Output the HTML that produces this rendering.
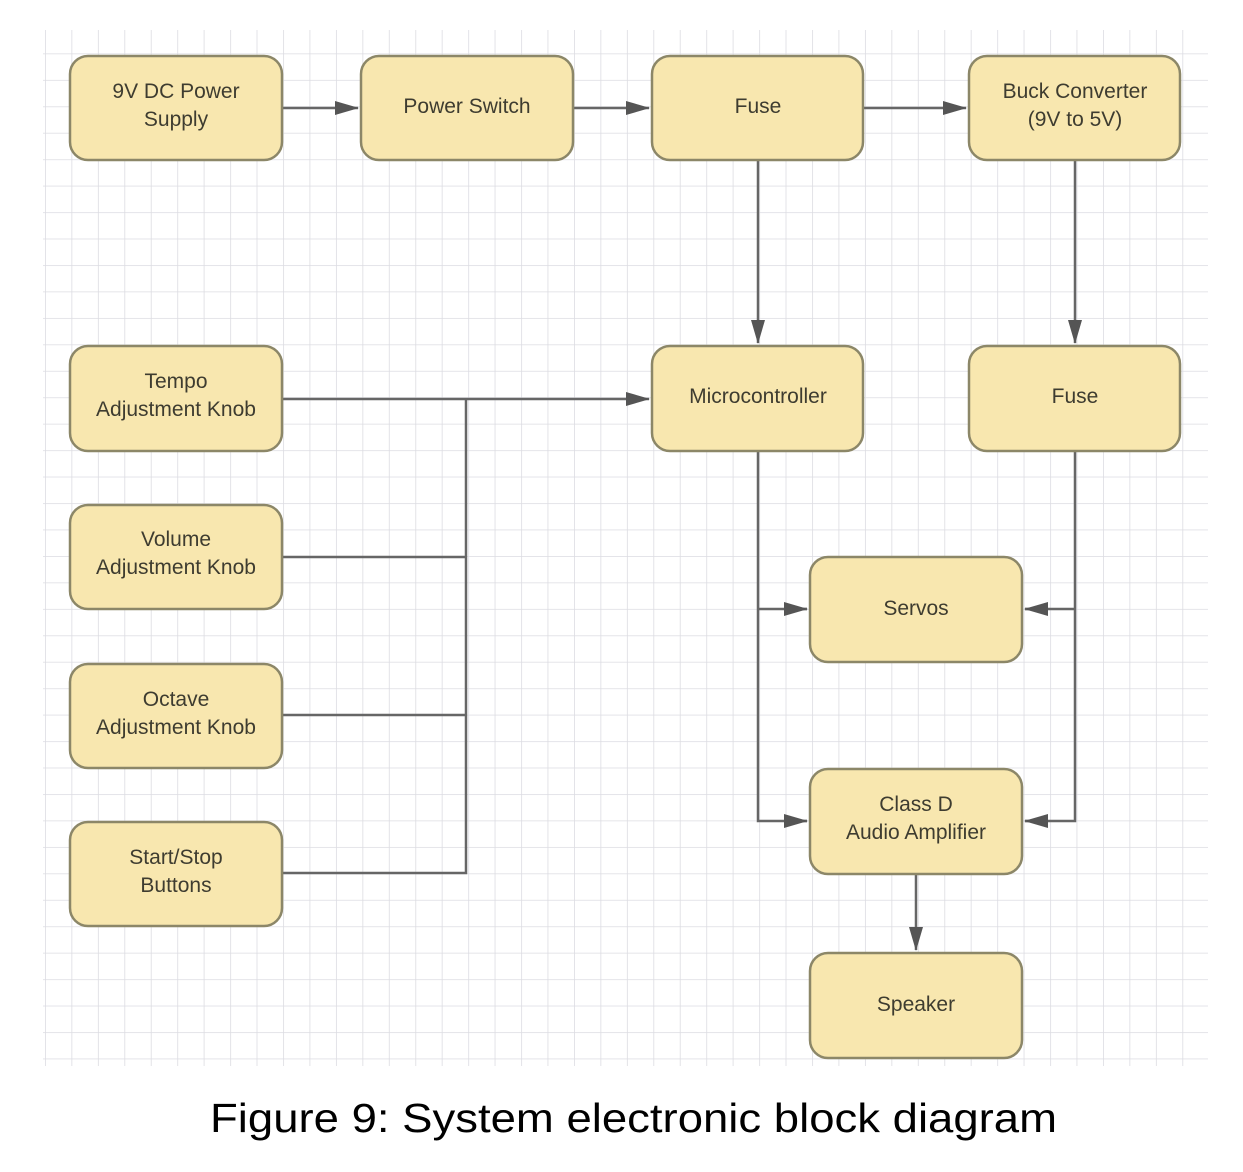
<!DOCTYPE html>
<html><head><meta charset="utf-8"><style>
html,body{margin:0;padding:0;background:#fff;}
svg{display:block;}
</style></head><body>
<svg width="1243" height="1172" viewBox="0 0 1243 1172" xmlns="http://www.w3.org/2000/svg">
<defs>
<pattern id="g" x="45" y="27" width="26.45" height="26.45" patternUnits="userSpaceOnUse">
<path d="M0 0H26.45M0 0V26.45" stroke="#dcdce2" stroke-width="1.6" fill="none"/>
</pattern>
<marker id="b" markerWidth="24" markerHeight="16" refX="23" refY="8" orient="auto" markerUnits="userSpaceOnUse" viewBox="0 0 24 16">
<path d="M0 1L24 8L0 15z" fill="#555"/>
</marker>
</defs>
<rect x="43" y="30" width="1165" height="1036" fill="url(#g)"/>
<g stroke="#666" stroke-width="2.5" fill="none">
<path d="M282 108H358" marker-end="url(#b)"/>
<path d="M573 108H649" marker-end="url(#b)"/>
<path d="M863 108H966" marker-end="url(#b)"/>
<path d="M758 160V343" marker-end="url(#b)"/>
<path d="M1075 160V343" marker-end="url(#b)"/>
<path d="M282 399H649" marker-end="url(#b)"/>
<path d="M466 399V873H282M282 557H466M282 715H466"/>
<path d="M758 451V821H807M758 609H807"/>
<path d="M790 609H807" marker-end="url(#b)"/>
<path d="M790 821H807" marker-end="url(#b)"/>
<path d="M1075 451V821H1025M1075 609H1025"/>
<path d="M1042 609H1025" marker-end="url(#b)"/>
<path d="M1042 821H1025" marker-end="url(#b)"/>
<path d="M916 874V950" marker-end="url(#b)"/>
</g>
<g fill="#f8e7af" stroke="#8c8768" stroke-width="2.5">
<rect x="70" y="56" width="212" height="104" rx="18"/>
<rect x="361" y="56" width="212" height="104" rx="18"/>
<rect x="652" y="56" width="211" height="104" rx="18"/>
<rect x="969" y="56" width="211" height="104" rx="18"/>
<rect x="70" y="346" width="212" height="105" rx="18"/>
<rect x="652" y="346" width="211" height="105" rx="18"/>
<rect x="969" y="346" width="211" height="105" rx="18"/>
<rect x="70" y="505" width="212" height="104" rx="18"/>
<rect x="70" y="664" width="212" height="104" rx="18"/>
<rect x="70" y="822" width="212" height="104" rx="18"/>
<rect x="810" y="557" width="212" height="105" rx="18"/>
<rect x="810" y="769" width="212" height="105" rx="18"/>
<rect x="810" y="953" width="212" height="105" rx="18"/>
</g>
<g font-family="Liberation Sans, sans-serif" font-size="21" fill="#3e3c30" text-anchor="middle">
<text x="176" y="98">9V DC Power</text><text x="176" y="126">Supply</text>
<text x="467" y="113">Power Switch</text>
<text x="758" y="113">Fuse</text>
<text x="1075" y="98">Buck Converter</text><text x="1075" y="126">(9V to 5V)</text>
<text x="176" y="388">Tempo</text><text x="176" y="416">Adjustment Knob</text>
<text x="758" y="403">Microcontroller</text>
<text x="1075" y="403">Fuse</text>
<text x="176" y="546">Volume</text><text x="176" y="574">Adjustment Knob</text>
<text x="176" y="706">Octave</text><text x="176" y="734">Adjustment Knob</text>
<text x="176" y="864">Start/Stop</text><text x="176" y="892">Buttons</text>
<text x="916" y="615">Servos</text>
<text x="916" y="811">Class D</text><text x="916" y="839">Audio Amplifier</text>
<text x="916" y="1011">Speaker</text>
</g>
<text x="210" y="1132" font-family="Liberation Sans, sans-serif" font-size="41" fill="#000" textLength="847" lengthAdjust="spacingAndGlyphs">Figure 9: System electronic block diagram</text>
</svg>
</body></html>
